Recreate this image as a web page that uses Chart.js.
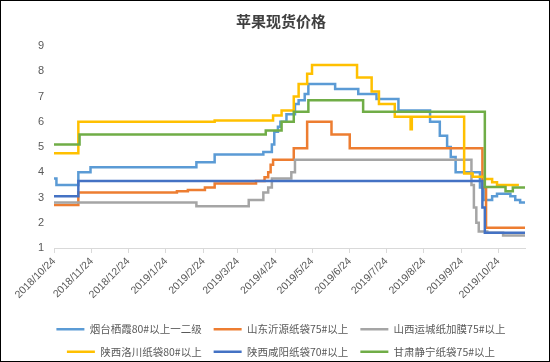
<!DOCTYPE html>
<html>
<head>
<meta charset="utf-8">
<script src="https://cdn.jsdelivr.net/npm/chart.js@4.4.0/dist/chart.umd.min.js"></script>
<style>
  html, body { margin: 0; padding: 0; background: #fff; }
  #wrap { position: relative; width: 550px; height: 362px; }
  #frame { position: absolute; left: 0; top: 0; width: 550px; height: 362px; box-sizing: border-box; border: 1px solid #000; pointer-events: none; }
</style>
</head>
<body>
<div id="wrap">
  <canvas id="priceChart" width="550" height="362"></canvas>
  <div id="frame"></div>
</div>
<script>
const tickLabels = ['2018/10/24', '2018/11/24', '2018/12/24', '2019/1/24', '2019/2/24', '2019/3/24',
    '2019/4/24', '2019/5/24', '2019/6/24', '2019/7/24', '2019/8/24', '2019/9/24', '2019/10/24'];
const seriesNames = ['烟台栖霞80#以上一二级', '山东沂源纸袋75#以上', '山西运城纸加膜75#以上',
    '陕西洛川纸袋80#以上', '陕西咸阳纸袋70#以上', '甘肃静宁纸袋75#以上'];
const seriesColors = ['#5B9BD5', '#ED7D31', '#A5A5A5', '#FFC000', '#4472C4', '#70AD47'];

// each series: dates where the price changes, and the new price from that day
const yantaiDates = ['2018/10/24', '2018/10/26', '2018/11/13', '2018/11/23', '2019/2/18', '2019/3/5', '2019/4/14',
    '2019/4/21', '2019/4/23', '2019/4/26', '2019/4/28', '2019/5/3', '2019/5/10', '2019/5/13', '2019/5/18', '2019/5/21',
    '2019/6/12', '2019/7/1', '2019/7/16', '2019/8/3', '2019/8/29', '2019/9/6', '2019/9/12', '2019/9/15', '2019/9/19',
    '2019/10/9', '2019/10/12', '2019/10/19', '2019/10/23', '2019/11/3', '2019/11/7', '2019/11/11', '2019/11/15'];
const yantaiValues = [3.75, 3.5, 4.0, 4.2, 4.4, 4.7, 4.8,
    5.1, 5.6, 5.8, 6.0, 6.3, 6.7, 6.85, 7.1, 7.5,
    7.3, 7.1, 6.9, 6.45, 6.0, 5.45, 5.0, 4.6, 4.0,
    3.4, 2.9, 3.05, 3.15, 3.05, 2.9, 2.8, 2.8];

const shandongDates = ['2018/10/24', '2018/11/13', '2019/2/2', '2019/2/11', '2019/2/25', '2019/3/5', '2019/4/8',
    '2019/4/15', '2019/4/18', '2019/4/20', '2019/4/22', '2019/5/9', '2019/5/20', '2019/6/9', '2019/6/24',
    '2019/10/11', '2019/10/14', '2019/11/15'];
const shandongValues = [2.7, 3.2, 3.25, 3.3, 3.4, 3.55, 3.65,
    3.8, 4.0, 4.3, 4.5, 4.95, 6.0, 5.5, 4.95,
    3.4, 1.8, 1.8];

const yunchengDates = ['2018/10/24', '2019/2/18', '2019/4/2', '2019/4/14', '2019/4/18', '2019/4/21', '2019/5/7',
    '2019/5/10', '2019/10/2', '2019/10/4', '2019/10/6', '2019/10/8', '2019/10/15', '2019/10/28', '2019/11/15'];
const yunchengValues = [2.8, 2.65, 2.9, 3.2, 3.4, 3.75, 4.0,
    4.5, 3.5, 2.6, 2.0, 1.65, 1.6, 1.5, 1.5];

const luochuanDates = ['2018/10/24', '2018/11/13', '2019/3/5', '2019/4/22', '2019/4/29', '2019/5/9', '2019/5/13',
    '2019/5/20', '2019/5/24', '2019/6/30', '2019/7/12', '2019/7/18', '2019/7/31', '2019/8/13', '2019/8/14',
    '2019/9/26', '2019/10/3', '2019/10/13', '2019/10/19', '2019/10/23', '2019/11/10'];
const luochuanValues = [4.75, 6.0, 6.05, 6.25, 6.45, 7.0, 7.5,
    7.9, 8.25, 7.75, 7.2, 6.7, 6.2, 5.7, 6.2,
    3.95, 3.82, 3.73, 3.6, 3.5, 3.5];

const xianyangDates = ['2018/10/24', '2018/11/13', '2019/10/11', '2019/10/13', '2019/11/15'];
const xianyangValues = [3.05, 3.65, 2.6, 1.6, 1.6];

const jingningDates = ['2018/10/24', '2018/11/14', '2019/4/16', '2019/4/29', '2019/5/9', '2019/5/21', '2019/7/5',
    '2019/10/13', '2019/10/30', '2019/11/5', '2019/11/15'];
const jingningValues = [5.1, 5.5, 5.65, 6.0, 6.4, 6.85, 6.4,
    3.42, 3.25, 3.4, 3.4];

const dayOf = (s) => {
    const [y, m, d] = s.split('/').map(Number);
    const [y0, m0, d0] = tickLabels[0].split('/').map(Number);
    return (Date.UTC(y, m - 1, d) - Date.UTC(y0, m0 - 1, d0)) / 86400000;
};
const tickDays = tickLabels.map(dayOf);

const allDates = [yantaiDates, shandongDates, yunchengDates, luochuanDates, xianyangDates, jingningDates];
const allValues = [yantaiValues, shandongValues, yunchengValues, luochuanValues, xianyangValues, jingningValues];

const datasets = seriesNames.map((name, i) => ({
    label: name,
    data: allDates[i].map((d, j) => ({ x: dayOf(d), y: allValues[i][j] })),
    borderColor: seriesColors[i],
    backgroundColor: seriesColors[i],
    borderWidth: 2.5,
    pointRadius: 0,
    stepped: true,
    fill: false,
    order: seriesNames.length - i,
}));

const grayText = '#595959';

new Chart(document.getElementById('priceChart'), {
    type: 'line',
    data: { datasets },
    options: {
        responsive: false,
        animation: false,
        layout: { padding: { left: 37, right: 25, top: 0, bottom: 5 } },
        plugins: {
            title: {
                display: true,
                text: '苹果现货价格',
                color: '#404040',
                font: { family: 'Noto Sans CJK SC', size: 15, weight: 'bold' },
                padding: { top: 12, bottom: 16 },
            },
            legend: {
                position: 'bottom',
                maxHeight: 45,
                labels: {
                    usePointStyle: true,
                    pointStyle: 'line',
                    pointStyleWidth: 28,
                    boxHeight: 10,
                    padding: 12,
                    color: grayText,
                    font: { family: 'Noto Sans CJK SC', size: 10.5 },
                    sort: (a, b) => a.datasetIndex - b.datasetIndex,
                },
            },
            tooltip: { enabled: false },
        },
        scales: {
            x: {
                type: 'linear',
                min: 0,
                max: 387,
                afterBuildTicks: (scale) => { scale.ticks = tickDays.map(v => ({ value: v })); },
                afterFit: (scale) => {
                    scale.height = 64;
                    scale.paddingLeft = 0;
                    scale.paddingRight = 0;
                },
                ticks: {
                    autoSkip: false,
                    minRotation: 45,
                    maxRotation: 45,
                    padding: 2,
                    color: grayText,
                    font: { family: 'Liberation Sans', size: 10.5 },
                    callback: (value) => {
                        const k = tickDays.indexOf(value);
                        return k >= 0 ? tickLabels[k] : '';
                    },
                },
                grid: { display: true, drawOnChartArea: false, drawTicks: true, tickLength: 5, color: '#D9D9D9' },
                border: { display: true, color: '#D9D9D9' },
            },
            y: {
                min: 1,
                max: 9,
                afterFit: (scale) => { scale.width = 17; },
                ticks: {
                    stepSize: 1,
                    padding: 10,
                    color: grayText,
                    font: { family: 'Liberation Sans', size: 11 },
                },
                grid: { display: false, drawTicks: false },
                border: { display: false },
            },
        },
    },
});
</script>
</body>
</html>
